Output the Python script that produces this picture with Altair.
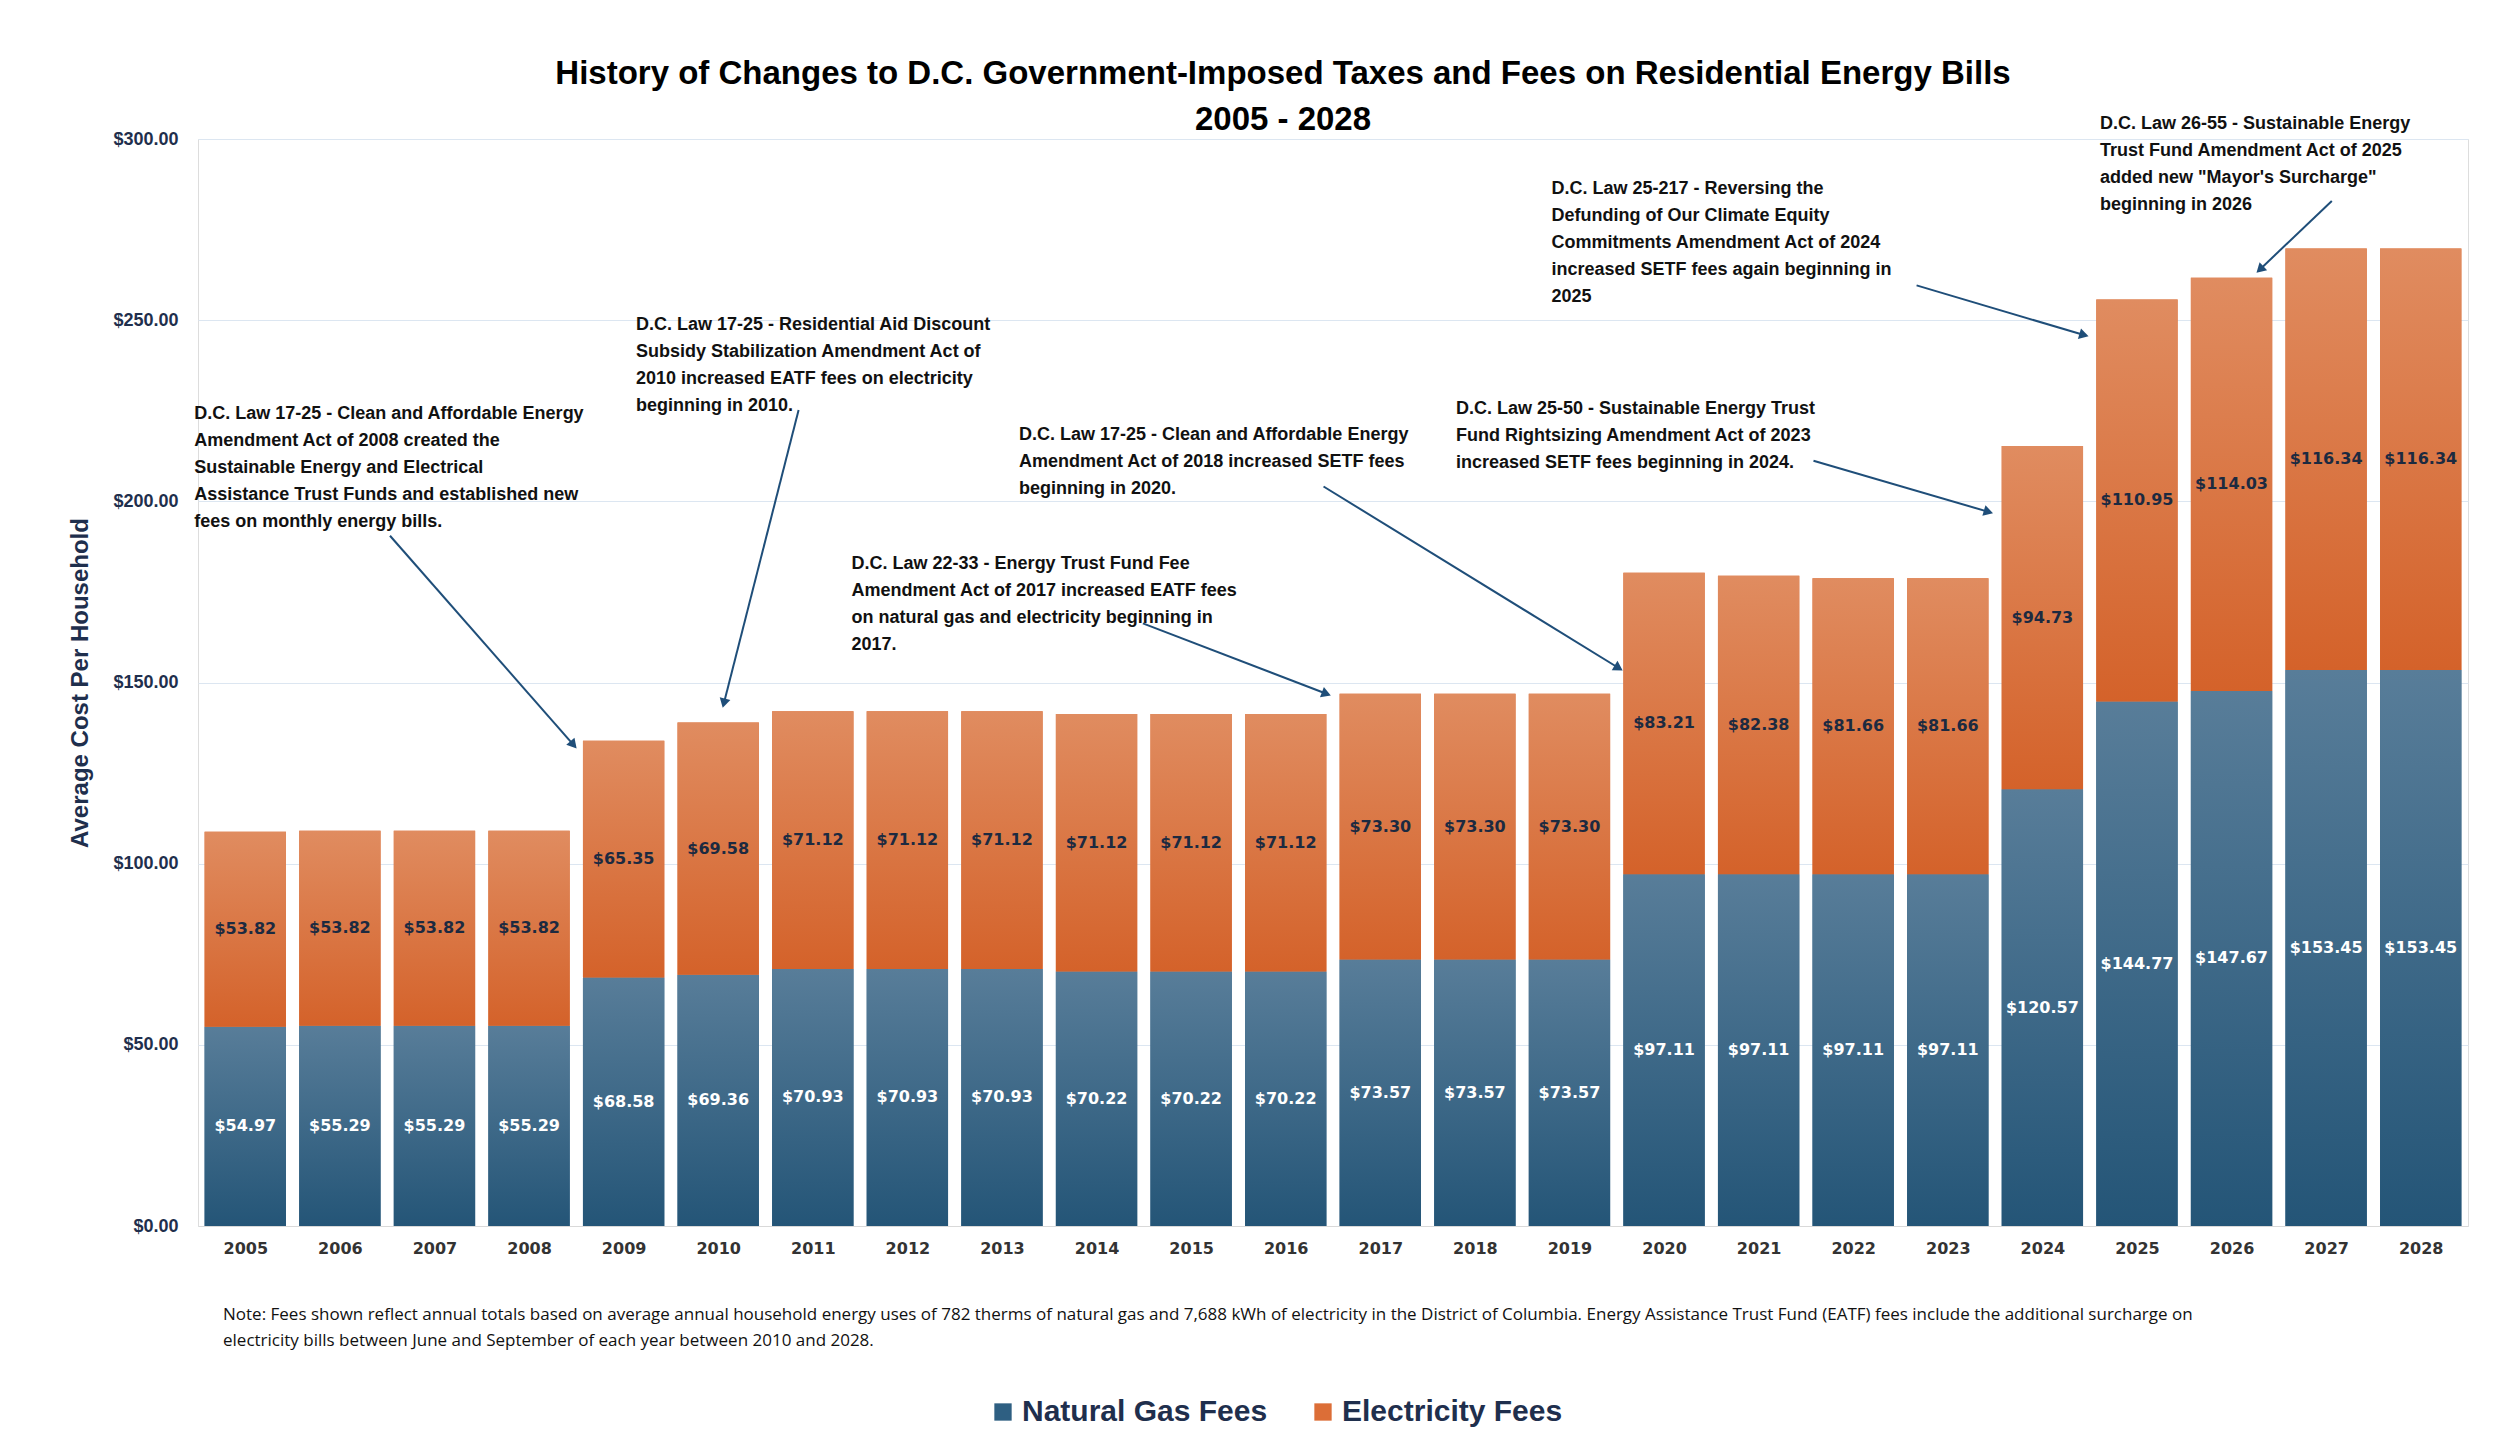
import altair as alt
import pandas as pd
import math

years = list(range(2005, 2029))
gas = [54.97,55.29,55.29,55.29,68.58,69.36,70.93,70.93,70.93,70.22,70.22,70.22,
       73.57,73.57,73.57,97.11,97.11,97.11,97.11,120.57,144.77,147.67,153.45,153.45]
elec = [53.82,53.82,53.82,53.82,65.35,69.58,71.12,71.12,71.12,71.12,71.12,71.12,
        73.30,73.30,73.30,83.21,82.38,81.66,81.66,94.73,110.95,114.03,116.34,116.34]

ann_text = [
    "D.C. Law 17-25 - Clean and Affordable Energy\nAmendment Act of 2008 created the\nSustainable Energy and Electrical\nAssistance Trust Funds and established new\nfees on monthly energy bills.",
    "D.C. Law 17-25 - Residential Aid Discount\nSubsidy Stabilization Amendment Act of\n2010 increased EATF fees on electricity\nbeginning in 2010.",
    "D.C. Law 22-33 - Energy Trust Fund Fee\nAmendment Act of 2017 increased EATF fees\non natural gas and electricity beginning in\n2017.",
    "D.C. Law 17-25 - Clean and Affordable Energy\nAmendment Act of 2018 increased SETF fees\nbeginning in 2020.",
    "D.C. Law 25-50 - Sustainable Energy Trust\nFund Rightsizing Amendment Act of 2023\nincreased SETF fees beginning in 2024.",
    "D.C. Law  25-217 - Reversing the\nDefunding of Our Climate Equity\nCommitments Amendment Act of 2024\nincreased SETF fees again beginning in\n2025",
    "D.C. Law 26-55 - Sustainable Energy\nTrust Fund Amendment Act of 2025\nadded new \"Mayor's Surcharge\"\nbeginning in 2026",
]
ann_x = [2004.46, 2009.13, 2011.41, 2013.18, 2017.80, 2018.81, 2024.61]
ann_y = [226.6, 251.2, 185.2, 220.9, 227.9, 288.6, 306.6]
arr_x1 = [2006.53, 2010.85, 2014.49, 2016.40, 2021.58, 2022.67, 2027.06]
arr_y1 = [190.5, 225.2, 166.3, 204.1, 211.2, 259.6, 282.9]
arr_x2 = [2008.47, 2010.06, 2016.43, 2019.52, 2023.43, 2024.44, 2026.30]
arr_y2 = [132.8, 144.3, 146.9, 154.0, 197.1, 245.9, 264.0]

W, H = 2270, 1087
XD = [2004.5, 2028.5]
YD = [0, 300]

df = pd.DataFrame({"year": years, "gas": gas, "elec": elec})
df["total"] = df.gas + df.elec
df["x1"] = df.year - 0.43
df["x2"] = df.year + 0.43
df["gas_mid"] = df.gas / 2
df["elec_mid"] = df.gas + df.elec / 2
df["gas_lbl"] = df.gas.map(lambda v: f"${v:.2f}")
df["elec_lbl"] = df.elec.map(lambda v: f"${v:.2f}")

long = pd.concat([
    pd.DataFrame({"x1": df.x1, "x2": df.x2, "lo": 0, "hi": df.gas, "s": "Natural Gas Fees"}),
    pd.DataFrame({"x1": df.x1, "x2": df.x2, "lo": df.gas, "hi": df.total, "s": "Electricity Fees"}),
])

arr = pd.DataFrame({"x1": arr_x1, "y1": arr_y1, "x2": arr_x2, "y2": arr_y2})
px = W / (XD[1] - XD[0]); py = H / (YD[1] - YD[0])
arr["ang"] = [
    (math.degrees(math.atan2((b - a) * px, (d - c) * py)) + 360) % 360
    for a, b, c, d in zip(arr.x1, arr.x2, arr.y1, arr.y2)
]
ann = pd.DataFrame({"x": ann_x, "y": ann_y, "t": ann_text})

NARROW = "Liberation Sans Narrow, Liberation Sans"
NAVY = "#1f2f4d"

xs = alt.Scale(domain=XD, nice=False, zero=False)
ys = alt.Scale(domain=YD, nice=False)

X = alt.X("x1:Q", scale=xs,
          axis=alt.Axis(values=years, format="d", title=None, grid=False, ticks=False,
                        labelFont="DejaVu Sans", labelFontWeight="bold", labelFontSize=16,
                        labelColor="#333333", labelPadding=14, domainColor="#d9d9d9"))
Y = alt.Y("lo:Q", scale=ys,
          axis=alt.Axis(values=[0, 50, 100, 150, 200, 250, 300], format="$,.2f",
                        title="Average Cost Per Household", titleFont=NARROW,
                        titleFontSize=24, titleColor=NAVY, titlePadding=20,
                        labelFont=NARROW, labelFontWeight="bold", labelFontSize=18,
                        labelColor=NAVY, ticks=False, domain=False, gridColor="#dce6f1",
                        labelPadding=20))

legend_bars = alt.Chart(long).mark_bar().encode(
    x=X, x2="x2:Q", y=Y, y2="hi:Q",
    color=alt.Color("s:N", scale=alt.Scale(domain=["Natural Gas Fees", "Electricity Fees"],
                                           range=["#2e5f82", "#dc6e37"]),
                    legend=alt.Legend(title=None, orient="none", direction="horizontal",
                                      legendX=790, legendY=1258, symbolType="square",
                                      symbolSize=300, labelFont=NARROW, labelFontSize=30,
                                      labelFontWeight="bold", labelColor=NAVY,
                                      columnPadding=40, labelLimit=400))
)

def grad(top, bottom):
    return alt.Gradient(gradient="linear", x1=0, x2=0, y1=0, y2=1,
                        stops=[alt.GradientStop(color=top, offset=0),
                               alt.GradientStop(color=bottom, offset=1)])

base = alt.Chart(df)
gas_bars = base.mark_bar(color=grad("#587d99", "#245577")).encode(
    x="x1:Q", x2="x2:Q", y=alt.Y("gas:Q"), y2=alt.Y2(datum=0))
elec_bars = base.mark_bar(color=grad("#e08c60", "#d4622a")).encode(
    x="x1:Q", x2="x2:Q", y=alt.Y("gas:Q"), y2="total:Q")

gas_lbl = base.mark_text(font="DejaVu Sans", fontWeight="bold", fontSize=16, color="white").encode(
    x="year:Q", y="gas_mid:Q", text="gas_lbl:N")
elec_lbl = base.mark_text(font="DejaVu Sans", fontWeight="bold", fontSize=16, color="#1c2a40").encode(
    x="year:Q", y="elec_mid:Q", text="elec_lbl:N")

ann_txt = alt.Chart(ann).mark_text(align="left", baseline="top", font=NARROW, fontSize=18,
                                   fontWeight="bold", color="#111111", lineBreak="\n",
                                   lineHeight=27).encode(x="x:Q", y="y:Q", text="t:N")
arr_line = alt.Chart(arr).mark_rule(color="#1f4e79", strokeWidth=2).encode(
    x="x1:Q", y="y1:Q", x2="x2:Q", y2="y2:Q")
arr_head = alt.Chart(arr).mark_point(shape="triangle-up", filled=True, color="#1f4e79",
                                     size=120, opacity=1).encode(
    x="x2:Q", y="y2:Q", angle=alt.Angle("ang:Q", scale=None))

note = alt.Chart(pd.DataFrame({"t": ["Note:  Fees shown reflect annual totals based on average annual household energy uses of 782 therms of natural gas and 7,688 kWh of electricity  in the District of Columbia. Energy Assistance Trust Fund (EATF) fees include the additional surcharge on\nelectricity bills between June and September of each year between 2010 and 2028."]})
).mark_text(align="left", baseline="top", font="Open Sans", fontSize=17, color="#111111",
            lineBreak="\n", lineHeight=26).encode(x=alt.value(25), y=alt.value(1168), text="t:N")

chart = alt.layer(legend_bars, gas_bars, elec_bars, gas_lbl, elec_lbl, arr_line, arr_head,
                  ann_txt, note).properties(
    width=W, height=H,
    padding={"left": 60, "top": 50, "right": 5, "bottom": 5},
    title=alt.TitleParams(["History of Changes to D.C. Government-Imposed Taxes and Fees on Residential Energy Bills", "2005 - 2028"],
                          font=NARROW, fontSize=33, fontWeight="bold", color="#000000",
                          anchor="middle", offset=-22, lineHeight=46, dx=-50)
).configure_view(stroke=None).configure(background="white")

chart.save("out.html", embed_options={"renderer": "svg", "actions": False})
